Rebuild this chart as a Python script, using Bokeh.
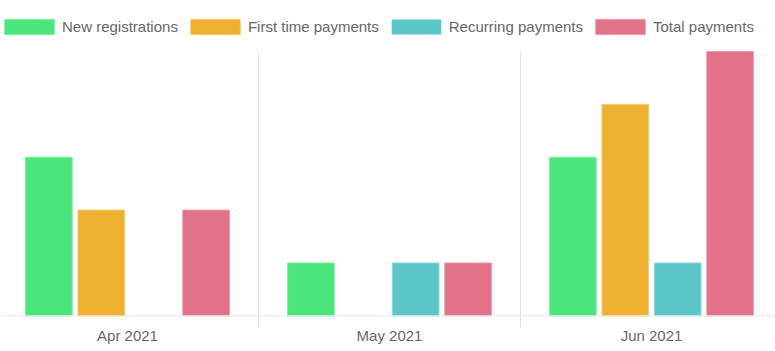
import numpy as np
from bokeh.plotting import figure
from bokeh.models import Range1d, FixedTicker, Grid, Span, Legend, LegendItem, ColumnDataSource
from bokeh.embed import file_html
from bokeh.resources import INLINE

months = ["Apr 2021", "May 2021", "Jun 2021"]
series_names = ["New registrations", "First time payments", "Recurring payments", "Total payments"]
new_registrations = [3, 1, 3]
first_time_payments = [2, 0, 4]
recurring_payments = [0, 1, 1]
total_payments = [2, 1, 5]

fills = ["#4BE57D", "#EDB031", "#5CC7C8", "#E2718A"]
borders = ["#7FEDA2", "#F3C86E", "#8ED9DA", "#EC9BAD"]
series_values = [new_registrations, first_time_payments, recurring_payments, total_payments]

FONT = "Liberation Sans"
Y_MAX = 5

p = figure(width=775, height=351, output_backend="svg", toolbar_location=None,
           x_range=Range1d(0.0153, 2.9733), y_range=Range1d(-0.24, 5.965),
           y_axis_location=None, min_border_left=0, min_border_right=0,
           min_border_top=0, min_border_bottom=23)
p.outline_line_color = None
p.xgrid.visible = False
p.ygrid.visible = False

grid = Grid(dimension=0, ticker=FixedTicker(ticks=[0, 1, 2, 3]), grid_line_color="#e5e5e5",
            grid_line_width=1, cross_bounds=(-0.24, Y_MAX))
p.add_layout(grid)

centers = np.arange(len(months)) + 0.5
offsets = [-0.3, -0.1, 0.1, 0.3]
items = []
for name, vals, fc, lc, off in zip(series_names, series_values, fills, borders, offsets):
    src = ColumnDataSource(dict(x=list(centers + off), top=vals,
                                la=[1.0 if v > 0 else 0.0 for v in vals]))
    r = p.vbar(x="x", top="top", bottom=0, width=0.178, source=src,
               fill_color=fc, line_color=lc, line_width=1, line_alpha="la")
    items.append(LegendItem(label=name, renderers=[r]))

p.add_layout(Span(location=0, dimension="width", line_color="#e5e5e5", line_width=1))

ax = p.xaxis[0]
ax.ticker = FixedTicker(ticks=[float(c) for c in centers])
ax.major_label_overrides = {float(c): m for c, m in zip(centers, months)}
ax.axis_line_color = None
ax.major_tick_line_color = None
ax.minor_tick_line_color = None
ax.major_tick_out = 0
ax.major_tick_in = 0
ax.major_label_standoff = -2
ax.major_label_text_font = FONT
ax.major_label_text_font_size = "15px"
ax.major_label_text_color = "#666666"

legend = Legend(items=items, orientation="horizontal", location=(-2, 292), margin=0, padding=0,
                glyph_width=62, glyph_height=19, label_height=19, label_standoff=2, spacing=6,
                label_text_font=FONT, label_text_font_size="15px", label_text_color="#666666",
                border_line_color=None, background_fill_alpha=0)
p.add_layout(legend)

open("out.html", "w").write(file_html(p, INLINE))
